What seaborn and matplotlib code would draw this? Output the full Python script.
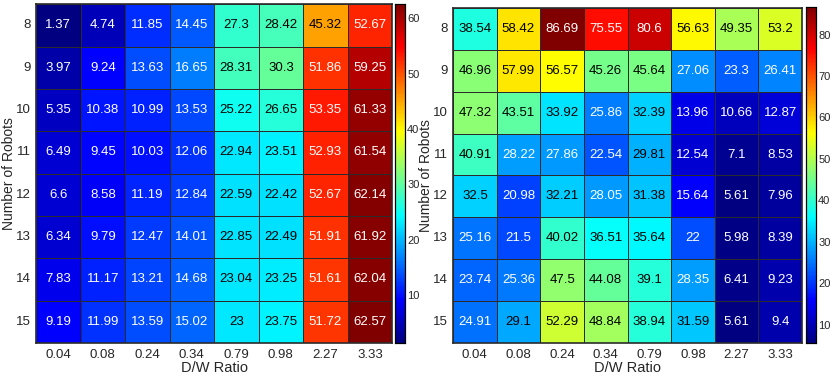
import matplotlib.pyplot as plt
import matplotlib as mpl
import seaborn as sns
import pandas as pd
import numpy as np

ratios = ['0.04', '0.08', '0.24', '0.34', '0.79', '0.98', '2.27', '3.33']
robots = [8, 9, 10, 11, 12, 13, 14, 15]

left_vals = [
    [1.37, 4.74, 11.85, 14.45, 27.3, 28.42, 45.32, 52.67],
    [3.97, 9.24, 13.63, 16.65, 28.31, 30.3, 51.86, 59.25],
    [5.35, 10.38, 10.99, 13.53, 25.22, 26.65, 53.35, 61.33],
    [6.49, 9.45, 10.03, 12.06, 22.94, 23.51, 52.93, 61.54],
    [6.6, 8.58, 11.19, 12.84, 22.59, 22.42, 52.67, 62.14],
    [6.34, 9.79, 12.47, 14.01, 22.85, 22.49, 51.91, 61.92],
    [7.83, 11.17, 13.21, 14.68, 23.04, 23.25, 51.61, 62.04],
    [9.19, 11.99, 13.59, 15.02, 23, 23.75, 51.72, 62.57],
]
right_vals = [
    [38.54, 58.42, 86.69, 75.55, 80.6, 56.63, 49.35, 53.2],
    [46.96, 57.99, 56.57, 45.26, 45.64, 27.06, 23.3, 26.41],
    [47.32, 43.51, 33.92, 25.86, 32.39, 13.96, 10.66, 12.87],
    [40.91, 28.22, 27.86, 22.54, 29.81, 12.54, 7.1, 8.53],
    [32.5, 20.98, 32.21, 28.05, 31.38, 15.64, 5.61, 7.96],
    [25.16, 21.5, 40.02, 36.51, 35.64, 22, 5.98, 8.39],
    [23.74, 25.36, 47.5, 44.08, 39.1, 28.35, 6.41, 9.23],
    [24.91, 29.1, 52.29, 48.84, 38.94, 31.59, 5.61, 9.4],
]

# matlab style jet
x = np.linspace(0, 1, 256)
jet_rgb = np.stack([np.clip(1.5 - np.abs(4 * x - 3), 0, 1),
                    np.clip(1.5 - np.abs(4 * x - 2), 0, 1),
                    np.clip(1.5 - np.abs(4 * x - 1), 0, 1)], axis=1)
mjet = mpl.colors.ListedColormap(jet_rgb)

sns.set_theme(style='white')
plt.rcParams['font.family'] = ['Liberation Sans', 'DejaVu Sans']

fig = plt.figure(figsize=(8.32, 3.79), dpi=100)


def draw(vals, ax_pos, cb_pos, ticks):
    df = pd.DataFrame(vals, index=robots, columns=ratios)
    ax = fig.add_axes(ax_pos)
    cax = fig.add_axes(cb_pos)
    vmin, vmax = df.values.min(), df.values.max()
    sns.heatmap(df, ax=ax, cbar_ax=cax, cmap=mjet, vmin=vmin, vmax=vmax,
                linewidths=0.7, linecolor='#2b2b2b', annot=False,
                cbar_kws={'ticks': ticks})
    norm = mpl.colors.Normalize(vmin, vmax)
    for i in range(len(robots)):
        for j in range(len(ratios)):
            v = df.values[i, j]
            r, g, b, _ = mjet(norm(v))
            lum = 0.299 * r + 0.587 * g + 0.114 * b
            ax.text(j + 0.5, i + 0.5, f'{v:g}', ha='center', va='center',
                    fontsize=9.5, color='black' if lum > 0.5 else 'white')
    for s in ax.spines.values():
        s.set_visible(True)
        s.set_color('#2b2b2b')
        s.set_linewidth(1.2)
    ax.tick_params(length=0, labelsize=9.5, colors='#262626', pad=4)
    ax.set_yticklabels(robots, rotation=0)
    ax.set_xticklabels(ratios, rotation=0)
    ax.set_xlabel('D/W Ratio', fontsize=10.5, color='#262626', labelpad=0)
    ax.set_ylabel('Number of Robots', fontsize=10, color='#262626', labelpad=0)
    cax.yaxis.set_ticks_position('right')
    cax.tick_params(labelsize=8, colors='#262626', length=2.5, width=0.8,
                    direction='in', pad=1.5)
    for s in cax.spines.values():
        s.set_visible(True)
        s.set_color('black')
        s.set_linewidth(0.8)
    cax.set_frame_on(True)
    return ax


draw(left_vals, [0.0433, 0.095, 0.428, 0.894], [0.4748, 0.095, 0.012, 0.894],
     [10, 20, 30, 40, 50, 60])
draw(right_vals, [0.5445, 0.095, 0.4195, 0.884], [0.9688, 0.095, 0.012, 0.887],
     [10, 20, 30, 40, 50, 60, 70, 80])

fig.savefig('out.png', dpi=100)
